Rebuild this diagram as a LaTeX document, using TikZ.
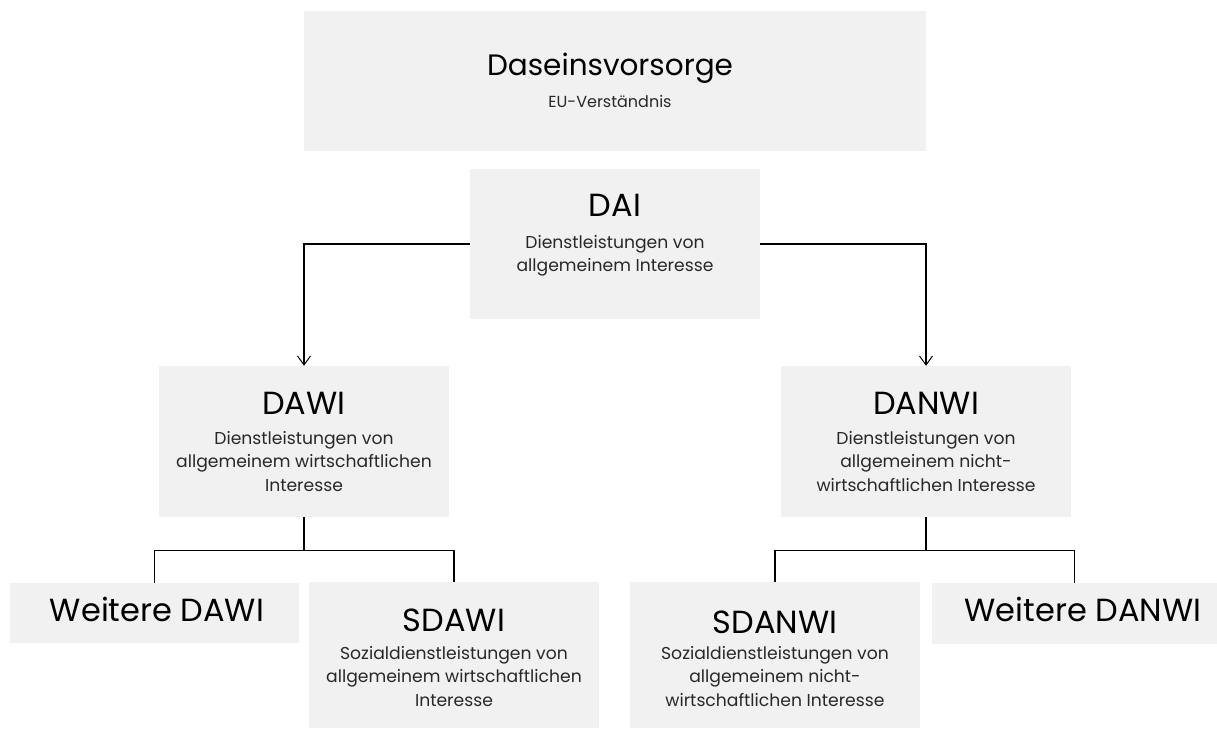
\documentclass[tikz,border=0pt]{standalone}
\usepackage{fontspec}
\setmainfont{Poppins}
\usetikzlibrary{arrows.meta}
\definecolor{boxgray}{RGB}{241,241,241}
\definecolor{subgray}{RGB}{40,40,40}
\newcommand\mystack[1]{\begin{tabular}[t]{@{}c@{}}#1\end{tabular}}
\tikzset{
  box/.style={fill=boxgray, draw=none, inner sep=0pt, rectangle},
  ttl/.style={inner sep=0pt, anchor=base, font=\fontsize{32}{38}\selectfont, text=black},
  toptl/.style={ttl, font=\fontsize{29.5}{36}\selectfont},
  sub/.style={inner sep=0pt, anchor=base, font=\fontsize{17.2}{23.5}\selectfont, text=subgray},
  topsub/.style={sub, font=\fontsize{16}{20}\selectfont},
  conn/.style={draw=black, line width=1.2pt},
  arr/.style={conn, -{Straight Barb[length=9pt,width=13pt,line width=1pt]}}
}
\begin{document}
\begin{tikzpicture}[x=1pt,y=-1pt]
\useasboundingbox (0,0) rectangle (1217,729);
% boxes
\node[box, minimum width=622pt, minimum height=140pt] (top) at (615,81) {};
\node[box, minimum width=290pt, minimum height=150pt] (dai) at (615,244) {};
\node[box, minimum width=290pt, minimum height=151pt] (dawi) at (304,441.5) {};
\node[box, minimum width=290pt, minimum height=151pt] (danwi) at (926,441.5) {};
\node[box, minimum width=289pt, minimum height=60pt] (wdawi) at (154.5,613) {};
\node[box, minimum width=290pt, minimum height=146pt] (sdawi) at (454,655) {};
\node[box, minimum width=290pt, minimum height=146pt] (sdanwi) at (775,655) {};
\node[box, minimum width=285pt, minimum height=61pt] (wdanwi) at (1074.5,613.5) {};
% texts
\node[toptl] (top-t) at (610,75) {Daseinsvorsorge};
\node[topsub] (top-s) at (610,107) {EU-Verständnis};
\node[ttl] (dai-t) at (615,216) {DAI};
\node[sub] (dai-s) at (615,248) {\mystack{Dienstleistungen von\\allgemeinem Interesse}};
\node[ttl] (dawi-t) at (304,414) {DAWI};
\node[sub] (dawi-s) at (304,444) {\mystack{Dienstleistungen von\\allgemeinem wirtschaftlichen\\Interesse}};
\node[ttl] (danwi-t) at (926,414) {DANWI};
\node[sub] (danwi-s) at (926,444) {\mystack{Dienstleistungen von\\allgemeinem nicht-\\wirtschaftlichen Interesse}};
\node[ttl] (wdawi-t) at (157,621) {Weitere DAWI};
\node[ttl] (sdawi-t) at (454,631) {SDAWI};
\node[sub] (sdawi-s) at (454,659) {\mystack{Sozialdienstleistungen von\\allgemeinem wirtschaftlichen\\Interesse}};
\node[ttl] (sdanwi-t) at (775,633) {SDANWI};
\node[sub] (sdanwi-s) at (775,659) {\mystack{Sozialdienstleistungen von\\allgemeinem nicht-\\wirtschaftlichen Interesse}};
\node[ttl] (wdanwi-t) at (1083,621) {Weitere DANWI};
% connectors
\draw[arr] (dai.west) -| (dawi.north);
\draw[arr] (dai.east) -| (danwi.north);
\coordinate (j1) at ([yshift=-33pt]dawi.south);
\coordinate (j2) at ([yshift=-33pt]danwi.south);
\draw[conn] (dawi.south) -- (j1);
\draw[conn] (wdawi.north) |- (j1) -| (sdawi.north);
\draw[conn] (danwi.south) -- (j2);
\draw[conn] (sdanwi.north) |- (j2) -| (wdanwi.north);
\end{tikzpicture}
\end{document}
